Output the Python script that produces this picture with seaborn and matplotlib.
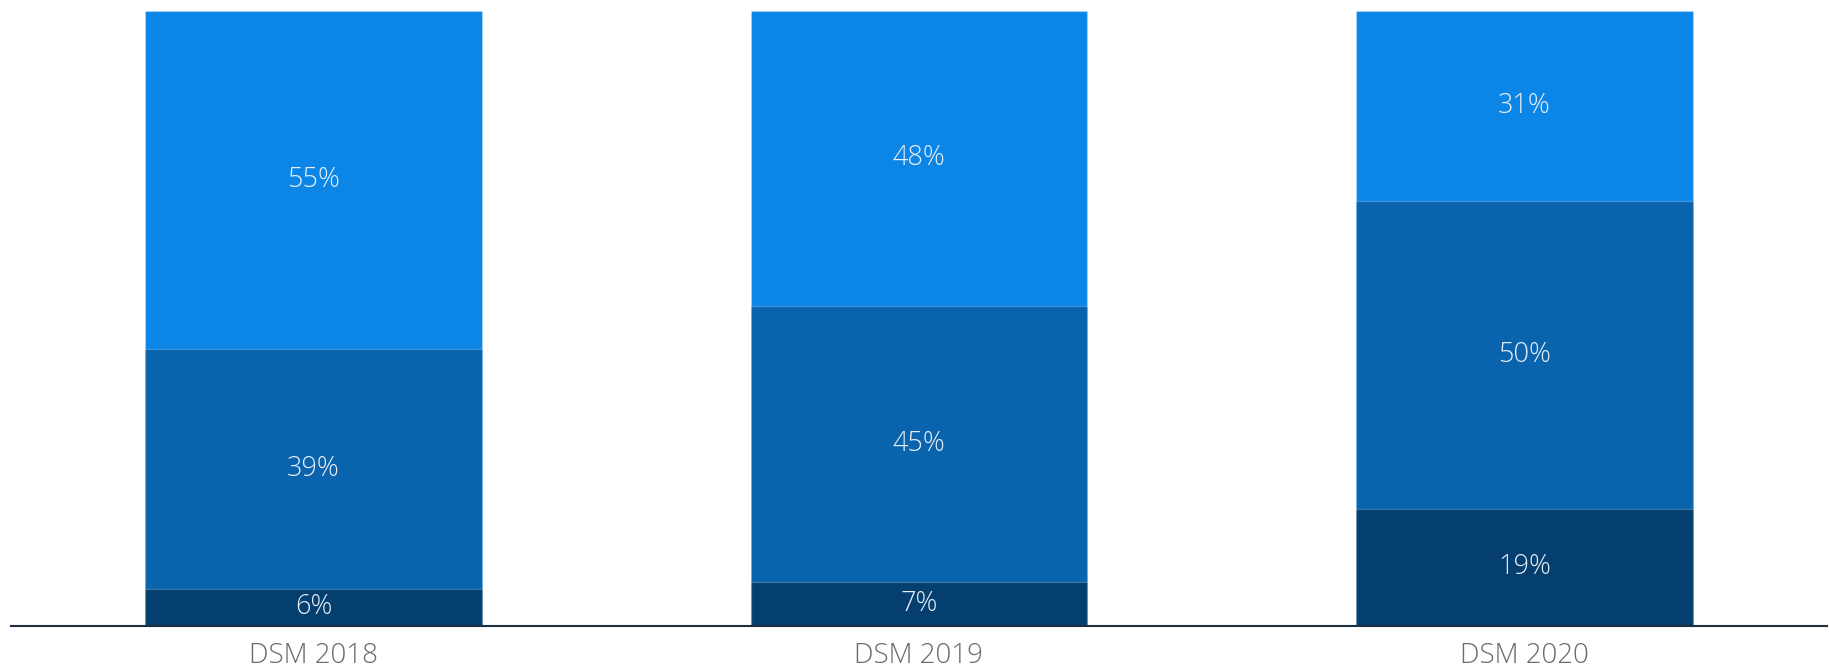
import numpy as np
import pandas as pd
import matplotlib
matplotlib.use("Agg")
import matplotlib.pyplot as plt
import seaborn as sns

# Survey editions and the share of respondents in each band (%)
editions = ["DSM 2018", "DSM 2019", "DSM 2020"]
share_low = [6, 7, 19]
share_mid = [39, 45, 50]
share_high = [55, 48, 31]

series_values = [share_low, share_mid, share_high]
series_colors = ["#053F70", "#0963AD", "#0B86E6"]

sns.set_theme(style="white")
plt.rcParams["font.family"] = ["Open Sans", "DejaVu Sans"]

fig = plt.figure(figsize=(18.29, 6.65), dpi=100)
ax = fig.add_axes([11 / 1829, 39.5 / 665, 1816 / 1829, 614.5 / 665])

# Stacked bars: draw running totals from the tallest down so each band shows
cumulative = np.cumsum(np.array(series_values, dtype=float), axis=0)
for level in range(len(series_values) - 1, -1, -1):
    df = pd.DataFrame({"edition": editions, "value": cumulative[level]})
    sns.barplot(
        data=df, x="edition", y="value", ax=ax,
        color=series_colors[level], saturation=1, width=0.556,
        edgecolor=(1, 1, 1, 0.22), linewidth=0.9, errorbar=None,
    )

# Value labels centred in each band
for level, vals in enumerate(series_values):
    for i, v in enumerate(vals):
        base = cumulative[level][i] - v
        ax.text(i, base + v / 2, f"{v}%", ha="center", va="center",
                fontsize=19.5, color="#E8EEF6", fontweight="light")

ax.set_xlim(-0.5, 2.5)
ax.set_ylim(0, 100)
ax.set_xlabel("")
ax.set_ylabel("")
ax.set_yticks([])
ax.tick_params(axis="x", length=0, pad=12, labelsize=20, labelcolor="#6B6B6B")
for lbl in ax.get_xticklabels():
    lbl.set_fontweight("light")

for side in ["top", "left", "right"]:
    ax.spines[side].set_visible(False)
ax.spines["bottom"].set_color("#1C2E40")
ax.spines["bottom"].set_linewidth(1.5)
ax.spines["bottom"].set_zorder(5)

fig.savefig("out.png", dpi=100, facecolor="white")
